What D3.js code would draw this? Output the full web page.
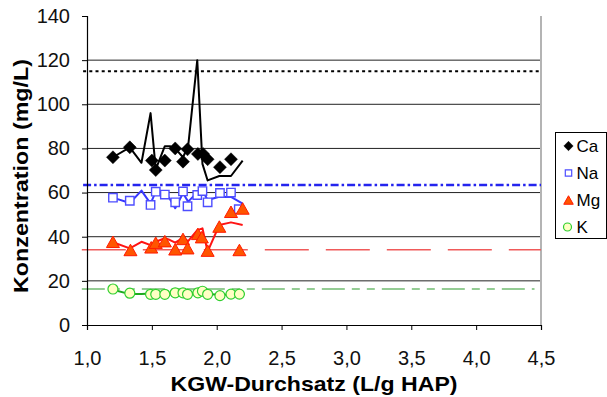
<!DOCTYPE html>
<html><head><meta charset="utf-8">
<script src="https://cdn.jsdelivr.net/npm/d3@7"></script>
<style>
html,body{margin:0;padding:0;background:#fff;}
svg{display:block;font-family:"Liberation Sans",Arial,sans-serif;}
</style></head>
<body><svg id="c" width="607" height="397"></svg>
<script>
// ---- data ----
const xTicks = [1.0,1.5,2.0,2.5,3.0,3.5,4.0,4.5];
const yTicks = [0,20,40,60,80,100,120,140];
const seriesNames = ["Ca","Na","Mg","K"];

const caX = [1.20,1.33,1.50,1.53,1.60,1.68,1.74,1.775,1.855,1.895,1.93,2.025,2.11];
const caY = [76,80.5,74.5,70.2,74.5,80,74,79.6,77.5,77.5,75.1,71.5,75.1];
const naX = [1.20,1.33,1.49,1.53,1.60,1.68,1.74,1.775,1.85,1.89,1.93,2.025,2.11,2.17];
const naY = [57.7,56.3,54.4,60.4,59.1,55.6,60.5,53.8,58.9,60.7,55.6,59.8,60.0,52.5];
const mgX = [1.20,1.335,1.495,1.53,1.60,1.68,1.74,1.775,1.855,1.885,1.93,2.02,2.11,2.175,2.20];
const mgY = [37.7,34.0,35.2,37.3,38.0,34.3,39.0,34.8,41.3,39.8,33.7,44.6,51.3,34.0,52.8];
const kX  = [1.20,1.33,1.49,1.53,1.60,1.68,1.74,1.775,1.855,1.89,1.93,2.025,2.11,2.175];
const kY  = [16.3,14.4,13.9,13.9,13.9,14.6,14.6,13.9,14.6,15.3,13.9,13.3,14.0,14.0];

const lineX  = [1.20,1.33,1.42,1.49,1.53,1.60,1.64,1.68,1.74,1.78,1.85,1.89,1.93,2.02,2.11,2.20];
const caLine = [76,80.5,73.5,96,70.5,81,81,80,76,81,120,73,65.5,67.5,67.5,74.5];
const naLine = [57.7,55.3,60.9,55.0,60.4,59.7,57,52.9,59.7,55.9,60.0,61.0,56.6,58.1,58.0,55.0];
const mgLine = [37.5,34.7,37.7,36.2,37.7,39.3,38.5,37.3,39.5,38.0,43.0,43.8,33.2,45.3,46.5,45.3];
const kLine  = [16.0,14.0,14.0,14.3,14.0,14.2,14.3,14.5,14.6,14.2,14.8,15.0,14.2,13.6,13.8,13.8];

const refLevels = [115, 63.4, 34.1, 16.3];

// ---- drawing ----
const svg = d3.select("#c");
const x = d3.scaleLinear().domain([1,4.5]).range([87,541]);
const y = d3.scaleLinear().domain([0,140]).range([325,16]);

// gridlines
svg.append("g").selectAll("line").data(yTicks.filter(v=>v>0 && v<140)).join("line")
  .attr("x1",x(1)).attr("x2",x(4.5)).attr("y1",d=>y(d)).attr("y2",d=>y(d))
  .attr("stroke","#222").attr("stroke-width",1);

// right plot border
svg.append("line").attr("x1",x(4.5)).attr("x2",x(4.5)).attr("y1",y(140)).attr("y2",y(0))
  .attr("stroke","#b4b4b4").attr("stroke-width",2);

// reference lines
const refStyles = [
  {c:"#000", w:2, dash:"3,3.2", x0:0.97, x1:4.5},
  {c:"#2424ee", w:2.5, dash:"8,3,2.5,3", x0:0.97, x1:4.5},
  {c:"#f05a5a", w:1.5, dash:"44,17", x0:0.96, x1:4.5},
  {c:"#2a9a2a", w:1.2, dash:"23,7,8,7,8,7", x0:0.96, x1:4.45}
];
refLevels.forEach((v,i)=>{
  const s = refStyles[i];
  svg.append("line").attr("x1",x(s.x0)).attr("x2",x(s.x1)).attr("y1",y(v)).attr("y2",y(v))
    .attr("stroke",s.c).attr("stroke-width",s.w).attr("stroke-dasharray",s.dash);
});

// axes
const yAxis = d3.axisLeft(y).tickValues(yTicks).tickSize(5).tickFormat(d3.format("d"));
const gy = svg.append("g").attr("transform","translate(87,0)").call(yAxis);
gy.select(".domain").attr("stroke","#000").attr("stroke-width",1.2);
gy.selectAll(".tick line").attr("stroke","#000");
gy.selectAll(".tick text").attr("x",-17).attr("font-size","20px").attr("fill","#111")
  .attr("font-family","Liberation Sans, Arial, sans-serif");

const xAxis = d3.axisBottom(x).tickValues(xTicks).tickSize(5)
  .tickFormat(d=>d3.format(".1f")(d).replace(".",","));
const gx = svg.append("g").attr("transform","translate(0,325)").call(xAxis);
gx.select(".domain").attr("stroke","#000").attr("stroke-width",1.2);
gx.selectAll(".tick line").attr("stroke","#000");
gx.selectAll(".tick text").attr("y",26).attr("dy","0.71em").attr("font-size","20px").attr("fill","#111")
  .attr("font-family","Liberation Sans, Arial, sans-serif");

// titles
svg.append("text").attr("x",314).attr("y",391).attr("text-anchor","middle")
  .attr("font-weight","bold").attr("font-size","21px").attr("fill","#000")
  .attr("textLength",287).attr("lengthAdjust","spacingAndGlyphs")
  .text("KGW-Durchsatz (L/g HAP)");
svg.append("text").attr("transform","translate(28,176) rotate(-90)").attr("text-anchor","middle")
  .attr("font-weight","bold").attr("font-size","21px").attr("fill","#000")
  .attr("textLength",234).attr("lengthAdjust","spacingAndGlyphs")
  .text("Konzentration (mg/L)");

// series lines
const lineGen = d3.line().x(d=>x(d[0])).y(d=>y(d[1]));
const lineSets = [
  {ys:caLine, c:"#000"},
  {ys:naLine, c:"#3838ff"},
  {ys:mgLine, c:"#ff1414"},
  {ys:kLine,  c:"#1faa1f"}
];
lineSets.forEach(s=>{
  svg.append("path").datum(lineX.map((v,i)=>[v,s.ys[i]])).attr("d",lineGen)
    .attr("fill","none").attr("stroke",s.c).attr("stroke-width",2).attr("stroke-linejoin","round");
});

// marker shapes
function diamond(r){return `M0,${-r}L${r},0L0,${r}L${-r},0Z`;}
function square(r){return `M${-r},${-r}H${r}V${r}H${-r}Z`;}
function triangle(w,h){return `M0,${-h/2}L${w/2},${h/2}L${-w/2},${h/2}Z`;}
const markerStyles = [
  {path:diamond(6.5), fill:"#000", stroke:"#000", sw:0.5},
  {path:square(4.2), fill:"#fff", stroke:"#4d4dff", sw:1.4},
  {path:triangle(13,11.5), fill:"#ff5500", stroke:"#ff1a00", sw:1},
  {path:null, r:5, fill:"#ffffc4", stroke:"#2fcf2f", sw:1.2}
];
const markerSets = [[caX,caY],[naX,naY],[mgX,mgY],[kX,kY]];
markerSets.forEach((m,i)=>{
  const st = markerStyles[i];
  const pts = m[0].map((v,j)=>[v,m[1][j]]);
  const g = svg.append("g");
  if(st.path){
    g.selectAll("path").data(pts).join("path")
      .attr("transform",d=>`translate(${x(d[0])},${y(d[1])})`).attr("d",st.path)
      .attr("fill",st.fill).attr("stroke",st.stroke).attr("stroke-width",st.sw);
  } else {
    g.selectAll("circle").data(pts).join("circle")
      .attr("cx",d=>x(d[0])).attr("cy",d=>y(d[1])).attr("r",st.r)
      .attr("fill",st.fill).attr("stroke",st.stroke).attr("stroke-width",st.sw);
  }
});

// legend
const lg = svg.append("g");
lg.append("rect").attr("x",555.5).attr("y",132.5).attr("width",51).attr("height",106)
  .attr("fill","#fff").attr("stroke","#000").attr("stroke-width",1);
const legMarkers = [
  {path:diamond(4.7), fill:"#000", stroke:"#000", sw:0.5},
  {path:square(3.2), fill:"#fff", stroke:"#4d4dff", sw:1.2},
  {path:triangle(9.5,8.5), fill:"#ff5500", stroke:"#ff1a00", sw:1},
  {path:null, r:4, fill:"#ffffc4", stroke:"#2fcf2f", sw:1.2}
];
seriesNames.forEach((n,i)=>{
  const cy = 146 + i*27;
  const st = legMarkers[i];
  if(st.path){
    lg.append("path").attr("transform",`translate(568.5,${cy})`).attr("d",st.path)
      .attr("fill",st.fill).attr("stroke",st.stroke).attr("stroke-width",st.sw);
  } else {
    lg.append("circle").attr("cx",567.5).attr("cy",cy).attr("r",st.r)
      .attr("fill",st.fill).attr("stroke",st.stroke).attr("stroke-width",st.sw);
  }
  lg.append("text").attr("x",576.5).attr("y",cy).attr("dy","0.36em")
    .attr("font-size","17px").attr("fill","#000").text(n);
});
</script></body></html>
